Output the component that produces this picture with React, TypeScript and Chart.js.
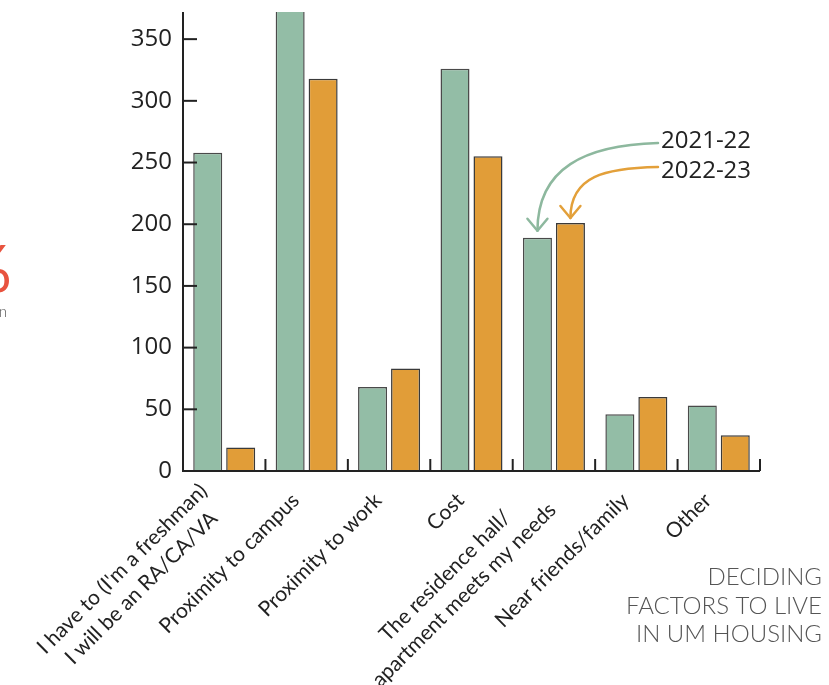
import React, { useEffect, useRef } from 'react';
import { Chart, registerables } from 'chart.js';

Chart.register(...registerables);

const categories: string[][] = [
  ["I have to (I'm a freshman)", 'I will be an RA/CA/VA'],
  ['Proximity to campus'],
  ['Proximity to work'],
  ['Cost'],
  ['The residence hall/', 'apartment meets my needs'],
  ['Near friends/family'],
  ['Other'],
];
const seriesNames = ['2021-22', '2022-23'];
const values2122 = [258, 380, 68, 326, 189, 46, 53];
const values2223 = [19, 318, 83, 255, 201, 60, 29];
const yTicks = [0, 50, 100, 150, 200, 250, 300, 350];
const yMax = 372;
const titleLines = ['DECIDING', 'FACTORS TO LIVE', 'IN UM HOUSING'];
const arrowCategory = 4;

const GREEN = '#93BDA6';
const ORANGE = '#E19D38';
const GREEN_LINE = '#8DB89E';
const ORANGE_LINE = '#E3A03A';
const INK = '#222222';
const LABEL_FONT = '21px Lato';
const LABEL_LINE = 27;

const decorPlugin = {
  id: 'decor',
  afterDraw(chart: any) {
    const { ctx, chartArea } = chart;
    const xs = chart.scales.x;
    const ys = chart.scales.y;
    ctx.save();
    // axes
    ctx.strokeStyle = INK;
    ctx.lineWidth = 2;
    ctx.beginPath();
    ctx.moveTo(chartArea.left, chartArea.top);
    ctx.lineTo(chartArea.left, chartArea.bottom);
    ctx.lineTo(chartArea.right, chartArea.bottom);
    ctx.stroke();
    // y ticks (inward)
    yTicks.forEach((v) => {
      const y = ys.getPixelForValue(v);
      ctx.beginPath();
      ctx.moveTo(chartArea.left, y);
      ctx.lineTo(chartArea.left + 14, y);
      ctx.stroke();
    });
    // x ticks at category boundaries (inward)
    const n = categories.length;
    const w = (chartArea.right - chartArea.left) / n;
    for (let i = 1; i <= n; i++) {
      const x = chartArea.left + i * w;
      ctx.beginPath();
      ctx.moveTo(x, chartArea.bottom);
      ctx.lineTo(x, chartArea.bottom - 12);
      ctx.stroke();
    }

    // rotated category labels; multi-line labels centred on the longest line
    ctx.fillStyle = INK;
    ctx.font = LABEL_FONT;
    ctx.textBaseline = 'middle';
    ctx.textAlign = 'center';
    categories.forEach((lines, i) => {
      const x = xs.getPixelForValue(i) - 11;
      const y = chartArea.bottom + 26;
      const widths = lines.map((l) => ctx.measureText(l).width);
      const maxW = Math.max(...widths);
      ctx.save();
      ctx.translate(x, y);
      ctx.rotate(-Math.PI / 4);
      lines.forEach((l, j) => {
        const off = (j - (lines.length - 1) / 2) * LABEL_LINE;
        ctx.fillText(l, -maxW / 2, off);
      });
      ctx.restore();
    });

    // annotation arrows
    const gBar = chart.getDatasetMeta(0).data[arrowCategory];
    const oBar = chart.getDatasetMeta(1).data[arrowCategory];
    const tx = 661;
    const ty1 = 148;
    const ty2 = 178;
    ctx.lineWidth = 2.5;
    ctx.lineCap = 'round';
    ctx.lineJoin = 'round';
    // green
    const gTipX = gBar.x;
    const gTipY = gBar.y - 7;
    ctx.strokeStyle = GREEN_LINE;
    ctx.beginPath();
    ctx.moveTo(tx - 3, ty1 - 5);
    ctx.bezierCurveTo(585, ty1 - 3, gTipX, ty1 + 20, gTipX, gTipY);
    ctx.stroke();
    ctx.beginPath();
    ctx.moveTo(gTipX - 10, gTipY - 12);
    ctx.lineTo(gTipX, gTipY);
    ctx.lineTo(gTipX + 10, gTipY - 12);
    ctx.stroke();
    // orange
    const oTipX = oBar.x;
    const oTipY = oBar.y - 5;
    ctx.strokeStyle = ORANGE_LINE;
    ctx.beginPath();
    ctx.moveTo(tx - 3, ty2 - 11);
    ctx.bezierCurveTo(605, ty2 - 10, oTipX, ty2 - 2, oTipX, oTipY);
    ctx.stroke();
    ctx.beginPath();
    ctx.moveTo(oTipX - 10, oTipY - 12);
    ctx.lineTo(oTipX, oTipY);
    ctx.lineTo(oTipX + 10, oTipY - 12);
    ctx.stroke();

    ctx.fillStyle = INK;
    ctx.font = '24px "Open Sans"';
    ctx.textAlign = 'left';
    ctx.textBaseline = 'alphabetic';
    ctx.fillText(seriesNames[0], tx, ty1);
    ctx.fillText(seriesNames[1], tx, ty2);

    // title
    ctx.fillStyle = '#555555';
    ctx.font = '300 24px Lato';
    ctx.textAlign = 'right';
    titleLines.forEach((t, i) => {
      ctx.fillText(t, 822, 585 + i * 28.5);
    });

    // cropped neighbour fragments at left edge
    ctx.fillStyle = '#E8533F';
    ctx.font = '66px Lato';
    ctx.textAlign = 'right';
    ctx.fillText('%', 12, 292);
    ctx.fillStyle = '#555555';
    ctx.font = '300 15px Lato';
    ctx.fillText('n', 7, 317);
    ctx.restore();
  },
};

export default function App() {
  const ref = useRef<HTMLCanvasElement | null>(null);
  useEffect(() => {
    let chart: Chart | null = null;
    let cancelled = false;
    const make = () => {
      if (cancelled || !ref.current) return;
      chart = new Chart(ref.current, {
        type: 'bar',
        data: {
          labels: categories,
          datasets: [
            {
              label: seriesNames[0],
              data: values2122,
              backgroundColor: GREEN,
              borderColor: '#4a4a4a',
              borderWidth: 1.5,
              categoryPercentage: 0.8,
              barPercentage: 0.88,
            },
            {
              label: seriesNames[1],
              data: values2223,
              backgroundColor: ORANGE,
              borderColor: '#3a3a3a',
              borderWidth: 1.5,
              categoryPercentage: 0.8,
              barPercentage: 0.88,
            },
          ],
        },
        options: {
          responsive: false,
          animation: false,
          devicePixelRatio: 1,
          layout: { padding: { left: 0, top: 12, right: 69, bottom: 0 } },
          plugins: {
            legend: { display: false },
            tooltip: { enabled: false },
            title: { display: false },
          },
          scales: {
            x: {
              grid: { display: false, drawTicks: false },
              border: { display: false },
              ticks: { display: false },
              afterFit: (s: any) => {
                s.height = 214;
                s.paddingLeft = 0;
                s.paddingRight = 0;
              },
            },
            y: {
              min: 0,
              max: yMax,
              grid: { display: false, drawTicks: false },
              border: { display: false },
              afterBuildTicks: (s: any) => {
                s.ticks = yTicks.map((v) => ({ value: v }));
              },
              ticks: {
                color: INK,
                font: { family: 'Open Sans', size: 24 },
                padding: 11,
              },
              afterFit: (s: any) => {
                s.width = 183;
                s.paddingTop = 0;
                s.paddingBottom = 0;
              },
            },
          },
        },
        plugins: [decorPlugin],
      });
    };
    const fontsReady = (document as any).fonts
      ? Promise.all([
          (document as any).fonts.load('21px Lato'),
          (document as any).fonts.load('300 24px Lato'),
          (document as any).fonts.load('24px "Open Sans"'),
        ]).catch(() => null)
      : Promise.resolve(null);
    fontsReady.then(make);
    return () => {
      cancelled = true;
      if (chart) chart.destroy();
    };
  }, []);
  return (
    <div style={{ position: 'fixed', left: 0, top: 0, width: 829, height: 685, background: '#fff' }}>
      <canvas ref={ref} width={829} height={685} style={{ width: 829, height: 685, display: 'block' }} />
    </div>
  );
}
